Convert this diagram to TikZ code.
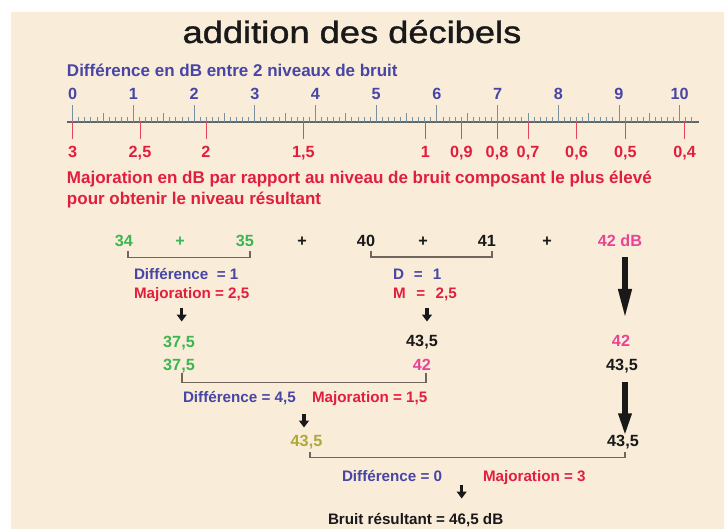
\documentclass[tikz,border=0pt]{standalone}
\usepackage{fontspec}
\setmainfont{Liberation Sans}
\newfontfamily\titlefont[FakeBold=1.2]{Liberation Sans}
\usetikzlibrary{arrows.meta}

\definecolor{paper}{RGB}{249,236,216}
\definecolor{scaleblue}{RGB}{72,70,165}
\definecolor{majred}{RGB}{226,30,62}
\definecolor{sumgreen}{RGB}{58,182,82}
\definecolor{sumpink}{RGB}{232,68,150}
\definecolor{sumolive}{RGB}{172,168,58}
\definecolor{inkblack}{RGB}{25,25,25}
\definecolor{rulecol}{RGB}{95,105,108}
\definecolor{tickcol}{RGB}{120,145,160}
\definecolor{redtick}{RGB}{228,70,90}
\definecolor{bracketcol}{RGB}{112,102,92}

\tikzset{
  txt/.style={inner sep=0pt, outer sep=0pt},
  headline/.style={txt, anchor=base west, font=\bfseries\fontsize{8.5pt}{10pt}\selectfont},
  num/.style={txt, anchor=base, font=\bfseries\fontsize{8.1pt}{9.7pt}\selectfont},
  lbl/.style={txt, anchor=base west, font=\bfseries\fontsize{7.6pt}{9pt}\selectfont},
  bracket/.style={draw=bracketcol, line width=0.6pt},
  smallarrow/.style={draw=inkblack, line width=1.75pt, -{Triangle[length=3.4pt,width=4.8pt]}},
  bigarrow/.style={draw=inkblack, line width=3.35pt, -{Triangle[length=16.5pt,width=5.9pt]}},
}

\begin{document}
\begin{tikzpicture}[x=0.5pt,y=-0.5pt]
\useasboundingbox (0,0) rectangle (724,529);
\fill[white] (0,0) rectangle (724,529);
\fill[paper] (11,12) rectangle (724,529);

% title
\node[txt, anchor=base, font=\titlefont\fontsize{15.5pt}{18pt}\selectfont, inkblack] (title) at (352,43)
  {\scalebox{1.17}[1]{addition des décibels}};

% scale header
\node[headline, scaleblue] (hdiff) at (67,76.5) {Différence en dB entre 2 niveaux de bruit};

% ruler
\draw[rulecol, line width=0.6pt] (67,122) -- (699,122);
\foreach \i in {0,...,102} {
  \pgfmathsetmacro\tx{72.7+6.07*\i}
  \pgfmathsetmacro\th{mod(\i,10)==0 ? 17 : (mod(\i,5)==0 ? 9 : 5)}
  \draw[tickcol, line width=0.45pt] (\tx,122) -- (\tx,122-\th);
}
\foreach \d in {0,...,10}
  \node[num, scaleblue] (s\d) at ({72.7+60.7*\d},100) {\d};

% majoration ticks and values
\foreach \x/\t/\n in {72.7/3/m1, 140/{2,5}/m2, 206/2/m3, 303.3/{1,5}/m4, 425.3/1/m5,
                      461.3/{0,9}/m6, 497/{0,8}/m7, 528/{0,7}/m8, 576.5/{0,6}/m9,
                      625.3/{0,5}/m10, 684.7/{0,4}/m11} {
  \draw[redtick, line width=0.5pt] (\x,122.5) -- (\x,139);
  \node[num, majred] (\n) at (\x,158) {\t};
}

\node[headline, majred] (hmaj1) at (67,183.3)
  {Majoration en dB par rapport au niveau de bruit composant le plus élevé};
\node[headline, majred] (hmaj2) at (67,204.5) {pour obtenir le niveau résultant};

% first row of levels
\node[num, sumgreen] (n34) at (124,246.7) {34};
\node[num, sumgreen] (p1) at (180,246.7) {+};
\node[num, sumgreen] (n35) at (245,246.7) {35};
\node[num, inkblack] (p2) at (302,246.7) {+};
\node[num, inkblack] (n40) at (366,246.7) {40};
\node[num, inkblack] (p3) at (423,246.7) {+};
\node[num, inkblack] (n41) at (487,246.7) {41};
\node[num, inkblack] (p4) at (547,246.7) {+};
\node[num, sumpink] (n42) at (620,247) {42 dB};

% brackets of the first pairs
\coordinate (b1a) at (128,251.5); \coordinate (b1b) at (250,251.5);
\draw[bracket] (b1a) -- ++(0,6) -| (b1b);
\coordinate (b2a) at (371,251); \coordinate (b2b) at (492,251);
\draw[bracket] (b2a) -- ++(0,6) -| (b2b);

\node[lbl, scaleblue] (d1) at (134,280) {Différence\ \ = 1};
\node[lbl, majred] (j1) at (134,298.3) {Majoration = 2,5};
\node[lbl, scaleblue] (d2) at (393,280) {D\hspace{5pt}=\hspace{5pt}1};
\node[lbl, majred] (j2) at (393,298.5) {M\hspace{5.3pt}=\hspace{5.3pt}2,5};

\coordinate (a1s) at (181.7,308); \coordinate (a1e) at (181.7,321.5);
\draw[smallarrow] (a1s) -- (a1e);
\coordinate (a2s) at (427,308); \coordinate (a2e) at (427,321.5);
\draw[smallarrow] (a2s) -- (a2e);
\coordinate (g1s) at (625,257); \coordinate (g1e) at (625,322);
\draw[bigarrow] (g1s) -- (g1e);

% intermediate results
\node[num, sumgreen] (r1) at (179,347.5) {37,5};
\node[num, inkblack] (r2) at (422,346.5) {43,5};
\node[num, sumpink] (r3) at (621,346.5) {42};
\node[num, sumgreen] (q1) at (179,371) {37,5};
\node[num, sumpink] (q2) at (422,370.5) {42};
\node[num, inkblack] (q3) at (622,370.5) {43,5};

\coordinate (b3a) at (182,373); \coordinate (b3b) at (426,373);
\draw[bracket] (b3a) -- ++(0,9.3) -| (b3b);

\node[lbl, scaleblue] (d3) at (183,403) {Différence = 4,5};
\node[lbl, majred] (j3) at (312,403) {Majoration = 1,5};

\coordinate (a3s) at (304,414); \coordinate (a3e) at (304,427.5);
\draw[smallarrow] (a3s) -- (a3e);
\coordinate (g2s) at (625,382); \coordinate (g2e) at (625,437);
\draw[bigarrow, -{Triangle[length=11.8pt,width=5.9pt]}] (g2s) -- (g2e);

\node[num, sumolive] (t1) at (306.5,447) {43,5};
\node[num, inkblack] (t2) at (623,446.7) {43,5};

\coordinate (b4a) at (310,452); \coordinate (b4b) at (625,452.5);
\draw[bracket] (b4a) -- ++(0,5.5) -| (b4b);

\node[lbl, scaleblue] (d4) at (342,481.5) {Différence = 0};
\node[lbl, majred] (j4) at (483,481.5) {Majoration = 3};

\coordinate (a4s) at (461.7,485); \coordinate (a4e) at (461.7,498.5);
\draw[smallarrow] (a4s) -- (a4e);

\node[lbl, inkblack] (res) at (328,524) {Bruit résultant = 46,5 dB};
\end{tikzpicture}
\end{document}
